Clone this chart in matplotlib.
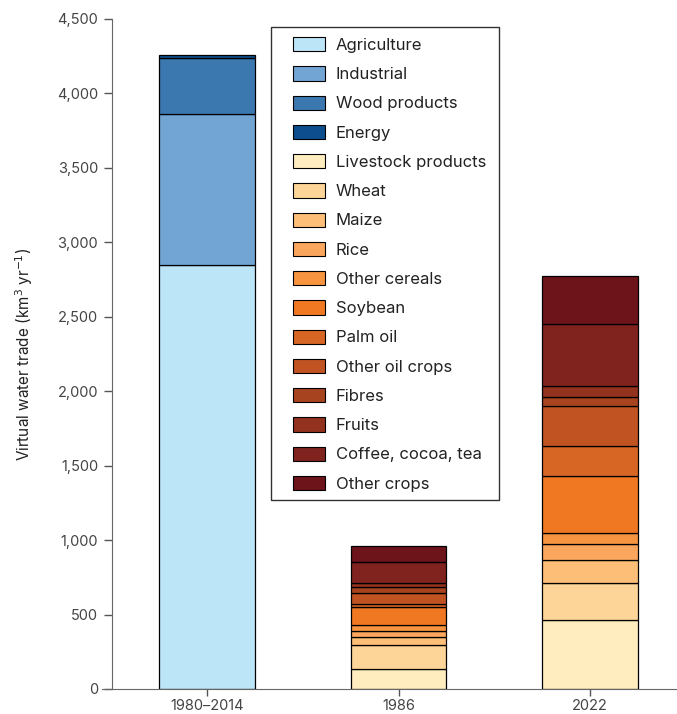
import matplotlib
matplotlib.use("Agg")
import matplotlib.pyplot as plt
from matplotlib.patches import Patch, Rectangle
from matplotlib.ticker import FuncFormatter

plt.rcParams["font.family"] = ["Inter", "DejaVu Sans"]

groups = ["1980–2014", "1986", "2022"]

# segment values (km3 per year), bottom to top
water_names = ["Agriculture", "Industrial", "Wood products", "Energy"]
water_vals = [2850, 1010, 380, 15]

crop_names = ["Livestock products", "Wheat", "Maize", "Rice", "Other cereals",
              "Soybean", "Palm oil", "Other oil crops", "Fibres", "Fruits",
              "Coffee, cocoa, tea", "Other crops"]
crop_1986 = [134, 161, 56, 40, 39, 119, 22, 76, 40, 23, 145, 105]
crop_2022 = [461, 249, 158, 106, 72, 386, 198, 273, 60, 72, 416, 325]

water_colors = ["#bde5f8", "#73a5d4", "#3b78b0", "#0d4f8e"]
crop_colors = ["#ffedc0", "#fed598", "#fdbe78", "#fba65d", "#f79440", "#f07822",
               "#d76524", "#c15323", "#a8431f", "#93321e", "#80231e", "#6d131a"]

W, H = 677, 714
fig = plt.figure(figsize=(W / 100, H / 100), dpi=100)
ax = fig.add_axes([102 / W, 25 / H, 575 / W, 670 / H])

width = 0.5
bottom = 0
for v, c in zip(water_vals, water_colors):
    ax.bar(0, v, width, bottom=bottom, color=c, edgecolor="black", linewidth=0.9)
    bottom += v

for xi, vals in [(1, crop_1986), (2, crop_2022)]:
    bottom = 0
    for v, c in zip(vals, crop_colors):
        ax.bar(xi, v, width, bottom=bottom, color=c, edgecolor="black", linewidth=0.9)
        bottom += v

ax.set_xlim(-0.548, 2.454)
ax.set_ylim(0, 4500)
ax.set_yticks(range(0, 4501, 500))
ax.yaxis.set_major_formatter(FuncFormatter(lambda v, p: f"{v:,.0f}"))
ax.set_xticks([0, 1, 2])
ax.set_xticklabels(groups)

for s in ["top", "right"]:
    ax.spines[s].set_visible(False)
ax.spines["left"].set_position(("axes", 10 / 575))
ax.spines["left"].set_color("#666666")
ax.spines["bottom"].set_color("#666666")
ax.tick_params(axis="both", colors="#555555", labelcolor="#444444", labelsize=10.5,
               width=1)
ax.tick_params(axis="y", length=6, pad=4)
ax.tick_params(axis="x", length=5, pad=2)
ax.set_ylabel("Virtual water trade (km$^3$ yr$^{-1}$)", fontsize=11, color="#222222",
              labelpad=16)

# legend box drawn by hand so padding matches the original
box = Rectangle((271 / W, 1 - 500 / H), 228 / W, 473 / H, transform=fig.transFigure,
                facecolor="white", edgecolor="#333333", linewidth=1.0, zorder=4)
ax.add_patch(box)

handles = [Patch(facecolor=c, edgecolor="black", linewidth=0.8, label=n)
           for n, c in zip(water_names + crop_names, water_colors + crop_colors)]
leg = ax.legend(handles=handles, loc="upper left",
                bbox_to_anchor=(293 / W, 1 - 37 / H), bbox_transform=fig.transFigure,
                fontsize=12, frameon=False,
                handlelength=1.92, handleheight=0.95, labelspacing=0.80,
                borderpad=0, handletextpad=0.65, borderaxespad=0)
leg.set_zorder(5)
for t in leg.get_texts():
    t.set_color("#222222")

fig.savefig("out.png", dpi=100)
